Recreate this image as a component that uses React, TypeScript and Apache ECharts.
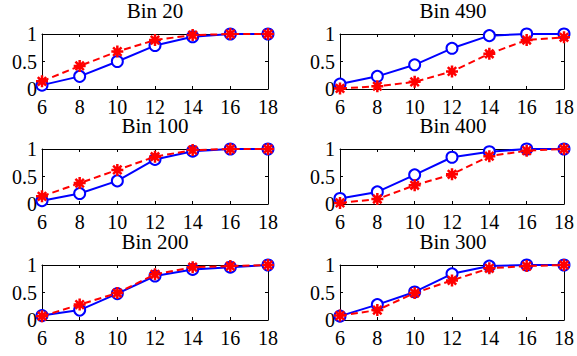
import React, { useEffect, useRef } from "react";
import * as echarts from "echarts";

const xValues = [6, 8, 10, 12, 14, 16, 18];
const xTicks = [6, 8, 10, 12, 14, 16, 18];
const yTicks = [0, 0.5, 1];
const titles = ["Bin 20", "Bin 490", "Bin 100", "Bin 400", "Bin 200", "Bin 300"];

const blueBin20 = [0.07, 0.23, 0.5, 0.79, 0.95, 1.0, 1.0];
const redBin20 = [0.14, 0.42, 0.68, 0.89, 0.98, 1.0, 1.0];
const blueBin490 = [0.09, 0.23, 0.44, 0.74, 0.97, 1.0, 1.0];
const redBin490 = [0.01, 0.05, 0.13, 0.32, 0.64, 0.89, 0.94];
const blueBin100 = [0.06, 0.19, 0.42, 0.81, 0.96, 1.0, 1.0];
const redBin100 = [0.14, 0.38, 0.62, 0.86, 0.98, 1.0, 1.0];
const blueBin400 = [0.1, 0.22, 0.53, 0.85, 0.95, 1.0, 1.0];
const redBin400 = [0.02, 0.09, 0.34, 0.54, 0.87, 0.97, 1.0];
const blueBin200 = [0.08, 0.18, 0.48, 0.8, 0.92, 0.96, 1.0];
const redBin200 = [0.07, 0.28, 0.49, 0.83, 0.96, 0.98, 1.0];
const blueBin300 = [0.07, 0.28, 0.51, 0.84, 0.98, 1.0, 1.0];
const redBin300 = [0.08, 0.18, 0.49, 0.72, 0.94, 0.98, 1.0];

const blueSets = [blueBin20, blueBin490, blueBin100, blueBin400, blueBin200, blueBin300];
const redSets = [redBin20, redBin490, redBin100, redBin400, redBin200, redBin300];

const FONT = "Liberation Serif";
const STAR = "path://M5,0L5,10M0,5L10,5M1.5,1.5L8.5,8.5M1.5,8.5L8.5,1.5";

export default function App() {
  const ref = useRef<HTMLDivElement>(null);
  useEffect(() => {
    if (!ref.current) return;
    const chart = echarts.init(ref.current, undefined, { renderer: "svg" });
    const lefts = [42, 340];
    const tops = [34, 149, 265];
    const W = 226;
    const H = 55;
    const grids: any[] = [];
    const xAxes: any[] = [];
    const yAxes: any[] = [];
    const series: any[] = [];
    const graphics: any[] = [];
    for (let i = 0; i < 6; i++) {
      const col = i % 2;
      const row = Math.floor(i / 2);
      const left = lefts[col];
      const top = tops[row];
      grids.push({ left, top, width: W, height: H, containLabel: false });
      const axisLine = { show: true, onZero: false, lineStyle: { color: "#000", width: 1 } };
      const tick = { show: true, inside: true, length: 3, lineStyle: { color: "#000", width: 1 } };
      xAxes.push({
        type: "value", gridIndex: i, position: "bottom", min: 6, max: 18, interval: 2,
        axisLine, axisTick: tick, splitLine: { show: false },
        axisLabel: { show: true, color: "#000", fontFamily: FONT, fontSize: 20, margin: 8,
          customValues: xTicks, formatter: (v: number) => String(v) },
      });
      xAxes.push({
        type: "value", gridIndex: i, position: "top", min: 6, max: 18, interval: 2,
        axisLine, axisTick: tick, splitLine: { show: false }, axisLabel: { show: false },
      });
      yAxes.push({
        type: "value", gridIndex: i, position: "left", min: 0, max: 1, interval: 0.5,
        axisLine, axisTick: tick, splitLine: { show: false },
        axisLabel: { show: true, color: "#000", fontFamily: FONT, fontSize: 20, margin: 5,
          formatter: (v: number) => (yTicks.includes(v) ? String(v) : "") },
      });
      yAxes.push({
        type: "value", gridIndex: i, position: "right", min: 0, max: 1, interval: 0.5,
        axisLine, axisTick: tick, splitLine: { show: false }, axisLabel: { show: false },
      });
      series.push({
        type: "line", xAxisIndex: 2 * i, yAxisIndex: 2 * i, clip: false,
        data: xValues.map((x, k) => [x, blueSets[i][k]]),
        symbol: "emptyCircle", symbolSize: 11,
        lineStyle: { color: "#0000ff", width: 2 },
        itemStyle: { color: "#0000ff", borderColor: "#0000ff", borderWidth: 2 },
        z: 2,
      });
      series.push({
        type: "line", xAxisIndex: 2 * i, yAxisIndex: 2 * i, clip: false,
        data: xValues.map((x, k) => [x, redSets[i][k]]),
        symbol: STAR, symbolSize: 12,
        lineStyle: { color: "#ff0000", width: 2, type: [7, 4] },
        itemStyle: { color: "#ff0000", borderColor: "#ff0000", borderWidth: 2.5 },
        z: 3,
      });
      graphics.push({
        type: "text", x: left + W / 2, y: top - 23,
        style: { text: titles[i], fontFamily: FONT, fontSize: 21, fill: "#000", align: "center", verticalAlign: "middle" },
      });
    }
    chart.setOption({
      animation: false,
      backgroundColor: "#fff",
      grid: grids,
      xAxis: xAxes,
      yAxis: yAxes,
      series,
      graphic: graphics,
    });
    return () => chart.dispose();
  }, []);
  return <div ref={ref} style={{ position: "fixed", left: 0, top: 0, width: 577, height: 356 }} />;
}
